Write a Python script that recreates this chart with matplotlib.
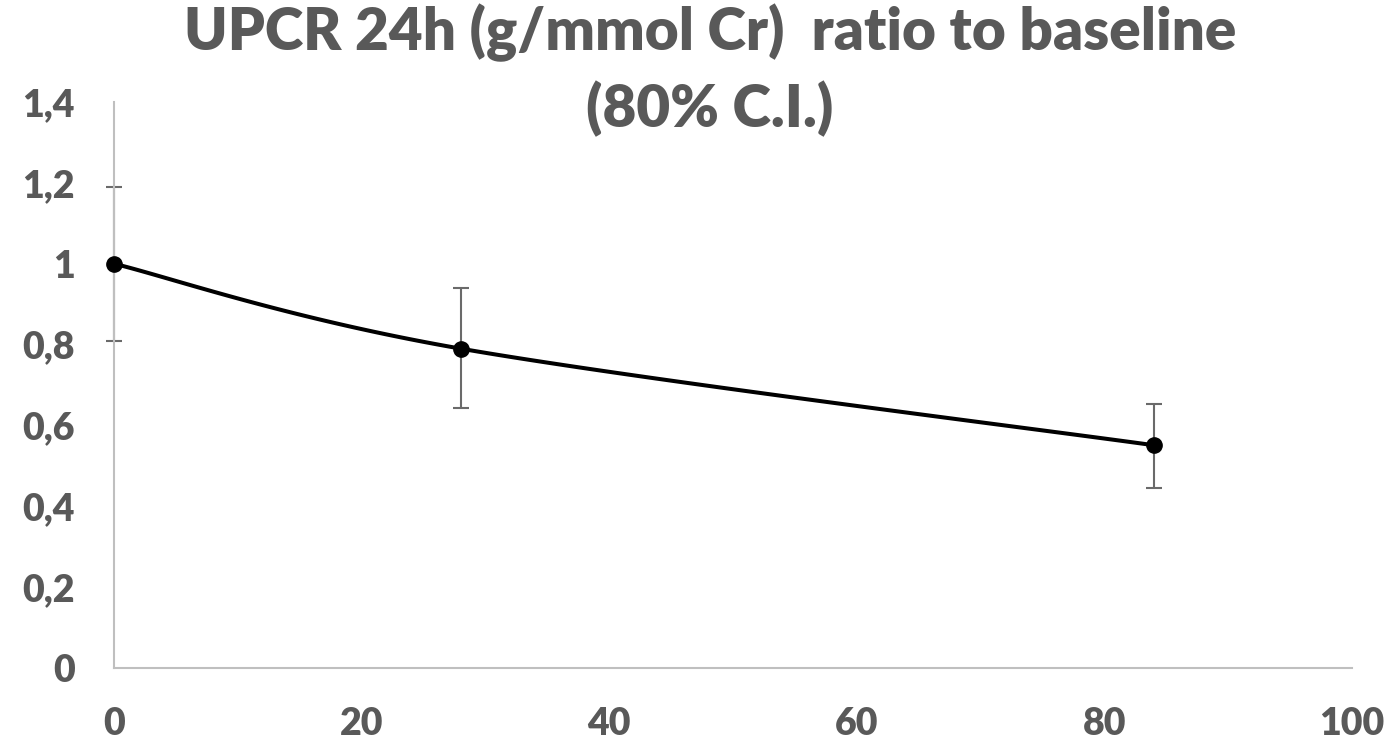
import numpy as np
import matplotlib
matplotlib.use("Agg")
import matplotlib.pyplot as plt

# data
days = [0, 28, 84]
ratio = [1.0, 0.79, 0.551]
ci_low = [0.81, 0.642, 0.444]
ci_high = [1.19, 0.94, 0.654]
xticks = [0, 20, 40, 60, 80, 100]
yticks = [0, 0.2, 0.4, 0.6, 0.8, 1.0, 1.2, 1.4]
ytick_labels = ["0", "0,2", "0,4", "0,6", "0,8", "1", "1,2", "1,4"]
title = "UPCR 24h (g/mmol Cr)  ratio to baseline\n(80% C.I.)"

grey = "#595959"
plt.rcParams['font.family'] = ['Lato', 'DejaVu Sans']

fig = plt.figure(figsize=(13.96, 7.41), dpi=100)
ax = fig.add_axes([114/1396, (741-668)/741, (1352-114)/1396, (668-102)/741])


def smooth(xs, ys, n=60):
    xs = np.asarray(xs, float); ys = np.asarray(ys, float)
    px = np.concatenate([[xs[0]], xs, [xs[-1]]])
    py = np.concatenate([[ys[0]], ys, [ys[-1]]])
    outx, outy = [], []
    t = np.linspace(0, 1, n)
    for i in range(1, len(px) - 2):
        p0 = np.array([px[i], py[i]]); p3 = np.array([px[i+1], py[i+1]])
        p1 = p0 + (np.array([px[i+1], py[i+1]]) - np.array([px[i-1], py[i-1]])) / 6
        p2 = p3 - (np.array([px[i+2], py[i+2]]) - np.array([px[i], py[i]])) / 6
        b = ((1-t)**3)[:, None]*p0 + (3*(1-t)**2*t)[:, None]*p1 + (3*(1-t)*t**2)[:, None]*p2 + (t**3)[:, None]*p3
        outx.extend(b[:, 0]); outy.extend(b[:, 1])
    return outx, outy

sx, sy = smooth(days, ratio)
ax.plot(sx, sy, color="black", lw=2.9, zorder=3, solid_capstyle="round", clip_on=False)
yerr = [np.array(ratio) - np.array(ci_low), np.array(ci_high) - np.array(ratio)]
eb = ax.errorbar(days, ratio, yerr=yerr, fmt="none", ecolor="#6a6a6a", elinewidth=1.5,
                 capsize=6, capthick=1.5, zorder=2)
for art in eb.lines[1] + eb.lines[2]:
    art.set_clip_on(False)
ax.plot(days, ratio, "o", color="black", ms=11, zorder=4, clip_on=False)

ax.set_xlim(0, 100)
ax.set_ylim(0, 1.4)
ax.set_xticks(xticks)
ax.set_xticklabels([str(v) for v in xticks])
ax.set_yticks(yticks)
ax.set_yticklabels(ytick_labels)
ax.tick_params(length=0, labelsize=27, colors=grey)
ax.tick_params(axis='y', pad=28)
ax.tick_params(axis='x', pad=28)
for lab in ax.get_xticklabels() + ax.get_yticklabels():
    lab.set_fontweight("heavy")
for s in ["top", "right"]:
    ax.spines[s].set_visible(False)
for s in ["left", "bottom"]:
    ax.spines[s].set_color("#BFBFBF")
    ax.spines[s].set_linewidth(1.5)

fig.text(710/1396, 1 - 4/741, title, ha="center", va="top", fontsize=42,
         fontweight="heavy", color=grey, linespacing=1.38)

fig.savefig("out.png", dpi=100)
